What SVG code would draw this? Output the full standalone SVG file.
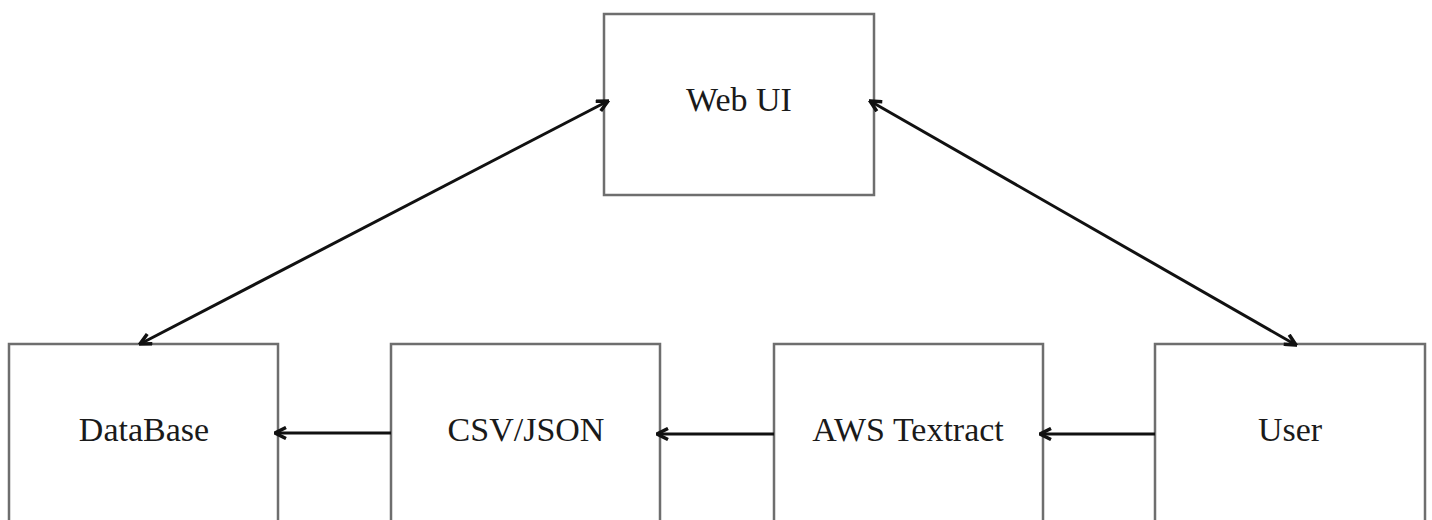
<svg xmlns="http://www.w3.org/2000/svg" width="1432" height="520" viewBox="0 0 1432 520">
<style>
.box{fill:#fff;stroke:#6e6e6e;stroke-width:2.5}
.lbl{font-family:"Liberation Serif","Times New Roman",serif;font-size:34px;fill:#1a1a1a;text-anchor:middle}
.edge{stroke:#111;stroke-width:3;fill:none}
</style>
<defs>
<marker id="ah" viewBox="0 0 14 14" refX="12.5" refY="7" markerWidth="14" markerHeight="14" markerUnits="userSpaceOnUse" orient="auto-start-reverse">
<path d="M1.5,1.5 L12.5,7 L1.5,12.5" fill="none" stroke="#111" stroke-width="3.5" stroke-linejoin="miter"/>
</marker>
</defs>
<rect width="1432" height="520" fill="#fff"/>
<g id="webui"><rect class="box" x="604" y="14" width="270" height="181"/><text class="lbl" x="739" y="111">Web UI</text></g>
<g id="database"><rect class="box" x="9" y="344" width="269" height="190"/><text class="lbl" x="144" y="441">DataBase</text></g>
<g id="csvjson"><rect class="box" x="391" y="344" width="269" height="190"/><text class="lbl" x="526" y="441">CSV/JSON</text></g>
<g id="textract"><rect class="box" x="774" y="344" width="269" height="190"/><text class="lbl" x="908" y="441">AWS Textract</text></g>
<g id="user"><rect class="box" x="1155" y="344" width="270" height="190"/><text class="lbl" x="1290" y="441">User</text></g>
<g id="connectors">
<line class="edge" x1="608" y1="101" x2="140" y2="344" marker-start="url(#ah)" marker-end="url(#ah)"/>
<line class="edge" x1="870" y1="101" x2="1296" y2="345" marker-start="url(#ah)" marker-end="url(#ah)"/>
<line class="edge" x1="1155" y1="434" x2="1040" y2="434" marker-end="url(#ah)"/>
<line class="edge" x1="774" y1="434" x2="657" y2="434" marker-end="url(#ah)"/>
<line class="edge" x1="391" y1="433" x2="275" y2="433" marker-end="url(#ah)"/>
</g>
</svg>
